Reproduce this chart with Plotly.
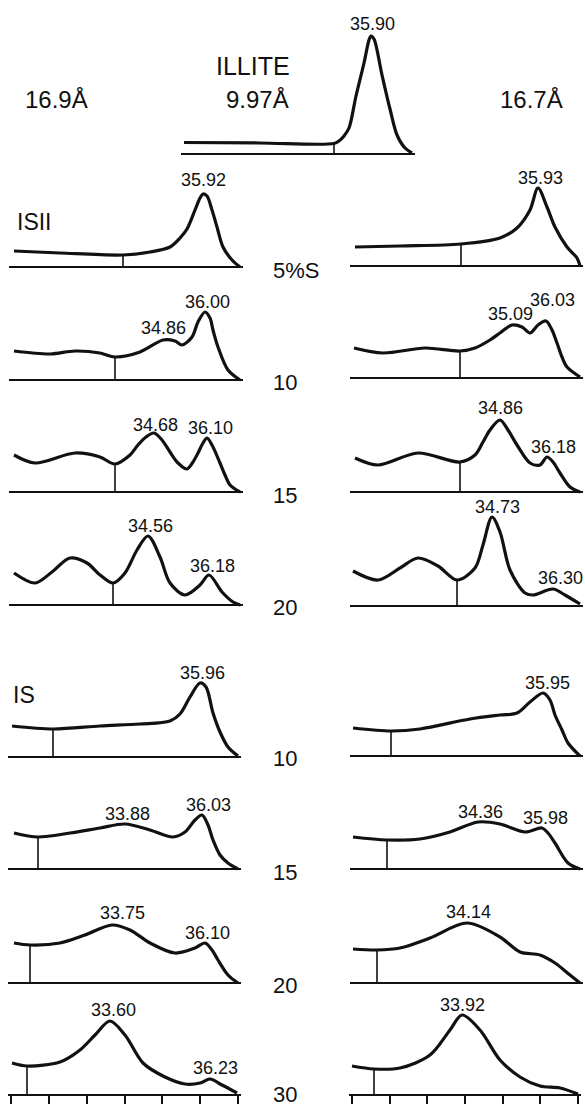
import numpy as np
import plotly.graph_objects as go

FIG_W, FIG_H = 585, 1108

# ---------------- data (scan position, relative intensity above baseline) ----------------
# Illite reference, 9.97 A
ILLITE_X = [0, 76, 150, 155, 160, 165, 172, 180, 185, 187, 190, 198, 206, 213, 221, 228]
ILLITE_Y = [11.5, 11, 10.5, 13, 18, 26, 58, 91, 114, 118, 115, 79, 45, 19, 6, 1]

# ISII series, 16.9 A (left) and 16.7 A (right)
ISII_L05_X = [2, 48, 111, 138, 158, 168, 175, 183, 188, 191, 195, 200, 205, 211, 220, 228]
ISII_L05_Y = [16, 14, 12, 15, 20, 29, 38, 57, 69, 73, 71, 57, 40, 20, 7, 0]
ISII_R05_X = [2, 47, 108, 147, 164, 177, 185, 194, 202, 214, 224, 227]
ISII_R05_Y = [19, 20, 22, 28, 38, 56, 78, 59, 39, 19, 8, 0]

ISII_L10_X = [2, 38, 63, 88, 103, 128, 151, 163, 170, 180, 186, 193, 198, 201, 206, 216, 228]
ISII_L10_Y = [29, 26, 29, 27, 23, 28, 40, 39, 35, 43, 58, 68, 62, 50, 33, 10, 0]
ISII_R10_X = [1, 30, 72, 107, 122, 137, 147, 159, 169, 177, 185, 193, 199, 204, 209, 214, 227]
ISII_R10_Y = [30, 25, 30, 27, 30, 38, 45, 53, 51, 45, 53, 57, 48, 35, 21, 11, 1]

ISII_L15_X = [2, 23, 63, 88, 103, 118, 126, 134, 142, 150, 158, 166, 175, 181, 186, 191, 195, 200, 208, 213, 218, 228]
ISII_L15_Y = [37, 29, 39, 35, 28, 37, 47, 55, 59, 52, 40, 29, 23, 30, 39, 49, 54, 47, 29, 17, 7, 0]
ISII_R15_X = [2, 25, 65, 107, 122, 130, 137, 147, 155, 164, 177, 187, 194, 200, 207, 217, 227]
ISII_R15_Y = [34, 27, 39, 30, 37, 50, 62, 72, 62, 47, 29, 27, 35, 30, 19, 5, 0]

ISII_L20_X = [2, 23, 40, 58, 75, 88, 101, 113, 125, 136, 148, 158, 173, 188, 197, 210, 221, 228]
ISII_L20_Y = [32, 22, 33, 47, 42, 30, 22, 32, 55, 69, 48, 22, 10, 20, 30, 13, 3, 0]
ISII_R20_X = [0, 25, 47, 65, 85, 104, 122, 130, 139, 147, 157, 172, 180, 200, 212, 227]
ISII_R20_Y = [35, 26, 38, 48, 40, 26, 38, 61, 89, 74, 36, 13, 11, 17, 11, 2]

# IS series
IS_L10_X = [1, 42, 89, 129, 159, 169, 179, 189, 195, 202, 209, 217, 227]
IS_L10_Y = [31, 28, 31, 33, 36, 43, 60, 74, 70, 44, 25, 10, 1]
IS_R10_X = [0, 38, 67, 117, 147, 164, 177, 190, 197, 202, 209, 215, 227]
IS_R10_Y = [28, 25, 27, 37, 41, 43, 54, 63, 56, 41, 26, 13, 0]

IS_L15_X = [3, 27, 59, 89, 114, 139, 162, 174, 184, 191, 197, 202, 209, 217, 227]
IS_L15_Y = [36, 32, 36, 41, 45, 39, 32, 37, 49, 54, 44, 29, 14, 6, 0]
IS_R15_X = [0, 34, 67, 97, 125, 147, 172, 189, 195, 202, 215, 227]
IS_R15_Y = [32, 29, 30, 37, 47, 45, 37, 41, 36, 26, 6, 0]

IS_L20_X = [3, 19, 49, 74, 101, 119, 139, 164, 184, 194, 201, 207, 217, 227]
IS_L20_Y = [40, 38, 40, 48, 58, 53, 40, 30, 35, 40, 33, 23, 8, 0]
IS_R20_X = [0, 24, 47, 77, 114, 147, 167, 187, 202, 217, 227]
IS_R20_Y = [34, 33, 35, 45, 60, 46, 31, 28, 20, 8, 0]

IS_L30_X = [1, 16, 49, 69, 84, 99, 114, 132, 154, 174, 189, 199, 211, 226]
IS_L30_Y = [32, 29, 33, 45, 60, 74, 60, 32, 18, 11, 12, 16, 10, 2]
IS_R30_X = [0, 22, 48, 78, 98, 110, 128, 148, 168, 188, 208, 226]
IS_R30_Y = [29, 26, 27, 40, 65, 80, 65, 35, 18, 9, 7, 1]

# vertical marker positions and peak labels
MARKS = {"IL": 150, "L05": 111, "R05": 108, "L10": 103, "R10": 107, "L15": 103, "R15": 107,
         "L20": 101, "R20": 104, "SL10": 42, "SR10": 38, "SL15": 27, "SR15": 34,
         "SL20": 19, "SR20": 24, "SL30": 16, "SR30": 22}
PEAKS = {"IL": ["35.90"], "L05": ["35.92"], "R05": ["35.93"],
         "L10": ["34.86", "36.00"], "R10": ["35.09", "36.03"],
         "L15": ["34.68", "36.10"], "R15": ["34.86", "36.18"],
         "L20": ["34.56", "36.18"], "R20": ["34.73", "36.30"],
         "SL10": ["35.96"], "SR10": ["35.95"],
         "SL15": ["33.88", "36.03"], "SR15": ["34.36", "35.98"],
         "SL20": ["33.75", "36.10"], "SR20": ["34.14"],
         "SL30": ["33.60", "36.23"], "SR30": ["33.92"]}

HEAD_LABELS = ["16.9Å", "ILLITE", "9.97Å", "16.7Å", "ISII", "IS"]
ROW_LABELS = ["5%S", "10", "15", "20", "10", "15", "20", "30"]

# ---------------- layout (pixel placement) ----------------
# key, curve x, curve y, left px, baseline px, width, bottom ticks
PANELS = [
    ("IL", ILLITE_X, ILLITE_Y, 184, 154, 228, False),
    ("L05", ISII_L05_X, ISII_L05_Y, 12, 267, 228, False),
    ("R05", ISII_R05_X, ISII_R05_Y, 353, 266, 227, False),
    ("L10", ISII_L10_X, ISII_L10_Y, 12, 380, 228, False),
    ("R10", ISII_R10_X, ISII_R10_Y, 353, 378, 227, False),
    ("L15", ISII_L15_X, ISII_L15_Y, 12, 492, 228, False),
    ("R15", ISII_R15_X, ISII_R15_Y, 353, 492, 227, False),
    ("L20", ISII_L20_X, ISII_L20_Y, 12, 605, 228, False),
    ("R20", ISII_R20_X, ISII_R20_Y, 353, 606, 227, False),
    ("SL10", IS_L10_X, IS_L10_Y, 11, 757, 227, False),
    ("SR10", IS_R10_X, IS_R10_Y, 353, 756, 227, False),
    ("SL15", IS_L15_X, IS_L15_Y, 11, 869, 227, False),
    ("SR15", IS_R15_X, IS_R15_Y, 353, 869, 227, False),
    ("SL20", IS_L20_X, IS_L20_Y, 11, 983, 227, False),
    ("SR20", IS_R20_X, IS_R20_Y, 353, 983, 227, False),
    ("SL30", IS_L30_X, IS_L30_Y, 11, 1095, 227, True),
    ("SR30", IS_R30_X, IS_R30_Y, 352, 1095, 226, True),
]
# label anchor positions (local units) for each peak label
PEAK_POS = {"IL": [(188, 130)], "L05": [(191, 87)], "R05": [(187, 88)],
            "L10": [(151, 52), (195, 78)], "R10": [(157, 64), (199, 78)],
            "L15": [(143, 67), (198, 64)], "R15": [(147, 84), (200, 45)],
            "L20": [(138, 79), (200, 39)], "R20": [(144, 99), (207, 28)],
            "SL10": [(191, 84)], "SR10": [(194, 73)],
            "SL15": [(116, 55), (197, 64)], "SR15": [(127, 57), (192, 51)],
            "SL20": [(111, 70), (196, 50)], "SR20": [(115, 71)],
            "SL30": [(102, 85), (204, 27)], "SR30": [(110, 90)]}
HEAD_POS = [(56, 100, 24), (253, 66, 25), (257, 99, 24), (531, 100, 24), (34, 222, 23), (24, 695, 23)]
ROW_POS_Y = [270, 382, 495, 607, 758, 872, 985, 1094]
ROW_X = 271

FONT = "Liberation Sans, Arial, sans-serif"
INK = "#111111"
TOP_PAD, BOT_PAD, SIDE_PAD = 132, 6, 3

fig = go.Figure()
layout = {}
annotations = []

for i, (key, cx, cy, x0, base, w, bottom) in enumerate(PANELS, start=1):
    sfx = "" if i == 1 else str(i)
    xa, ya = "x" + sfx, "y" + sfx
    fig.add_trace(go.Scatter(x=cx, y=cy, mode="lines", xaxis=xa, yaxis=ya,
                             line=dict(color=INK, width=3.2, shape="spline", smoothing=0.9),
                             hoverinfo="skip", showlegend=False))
    t = MARKS[key]
    fig.add_trace(go.Scatter(x=[t, t], y=[0, float(np.interp(t, cx, cy))], mode="lines",
                             xaxis=xa, yaxis=ya, line=dict(color=INK, width=1.6),
                             hoverinfo="skip", showlegend=False))
    xax = dict(domain=[(x0 - SIDE_PAD) / FIG_W, (x0 + w + SIDE_PAD) / FIG_W],
               range=[-SIDE_PAD, w + SIDE_PAD], anchor="free",
               position=1 - base / FIG_H, showline=True, linecolor=INK, linewidth=2,
               showgrid=False, zeroline=False, showticklabels=False, fixedrange=True)
    if bottom:
        xax.update(ticks="outside", tickvals=list(np.linspace(0, w, 7)), ticklen=8,
                   tickwidth=2, tickcolor=INK)
    else:
        xax.update(ticks="")
    layout["xaxis" + sfx] = xax
    layout["yaxis" + sfx] = dict(domain=[1 - (base + BOT_PAD) / FIG_H, 1 - (base - TOP_PAD) / FIG_H],
                                 range=[-BOT_PAD, TOP_PAD], anchor="free", position=0,
                                 visible=False, fixedrange=True)
    for txt, (px, py) in zip(PEAKS[key], PEAK_POS[key]):
        annotations.append(dict(text=txt, x=px, y=py, xref=xa, yref=ya, showarrow=False,
                                xanchor="center", yanchor="middle",
                                font=dict(family=FONT, size=18, color=INK)))

for txt, (px, py, fs) in zip(HEAD_LABELS, HEAD_POS):
    annotations.append(dict(text=txt, x=px / FIG_W, y=1 - py / FIG_H, xref="paper", yref="paper",
                            showarrow=False, xanchor="center", yanchor="middle",
                            font=dict(family=FONT, size=fs, color=INK)))
for txt, py in zip(ROW_LABELS, ROW_POS_Y):
    annotations.append(dict(text=txt, x=ROW_X / FIG_W, y=1 - py / FIG_H, xref="paper", yref="paper",
                            showarrow=False, xanchor="left", yanchor="middle",
                            font=dict(family=FONT, size=22, color=INK)))

fig.update_layout(width=FIG_W, height=FIG_H, margin=dict(l=0, r=0, t=0, b=0),
                  paper_bgcolor="white", plot_bgcolor="rgba(0,0,0,0)",
                  annotations=annotations, **layout)
fig.write_html("out.html", config={"displayModeBar": False, "staticPlot": True},
               post_script="document.body.style.margin='0px';")
